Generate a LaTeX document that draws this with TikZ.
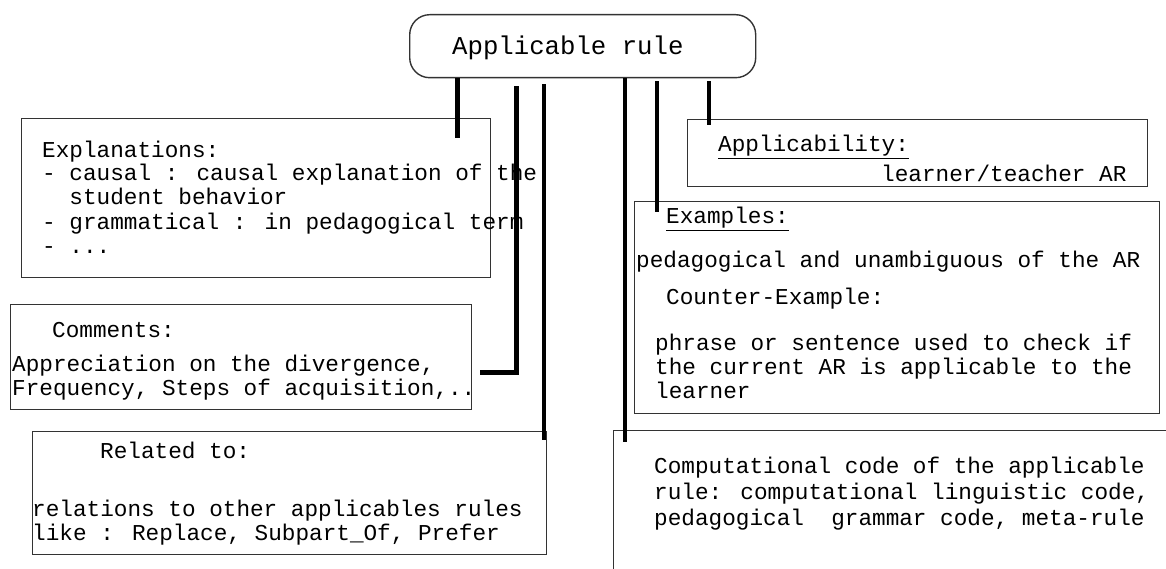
\documentclass[tikz,border=0pt]{standalone}
\usepackage{fontspec}
\newfontfamily\courier{Liberation Mono}

\begin{document}
\begin{tikzpicture}[x=1pt, y=-1pt,
    box/.style={draw=black!80, line width=1.4pt, anchor=north west, inner sep=0pt},
    txt/.style={font=\courier\fontsize{22.7}{24}\selectfont, anchor=base west, align=left, inner sep=0pt},
    wire/.style={line width=3.8pt},
    heavy/.style={line width=5pt}]
    \useasboundingbox (0,0) rectangle (1166,569);
    \clip (0,0) rectangle (1166,569);
    % the rule itself
    \node[box, rounded corners=20pt, minimum width=346pt, minimum height=63pt] (rule) at (409,14) {};
    \node[anchor=base west, inner sep=0pt, font=\courier\fontsize{25.7}{26}\selectfont] (ruletxt) at (452,55) {Applicable rule};
    % boxes
    \node[box, minimum width=469pt, minimum height=159pt] (expl) at (21,118) {};
    \node[box, minimum width=461pt, minimum height=105pt] (comm) at (10,304) {};
    \node[box, minimum width=514pt, minimum height=123pt] (rel) at (32,431) {};
    \node[box, minimum width=460pt, minimum height=67pt] (appl) at (687,119) {};
    \node[box, minimum width=525pt, minimum height=212pt] (exmp) at (634,201) {};
    \node[box, minimum width=600pt, minimum height=200pt] (code) at (613,430) {};
    % texts (base = last line)
    \node[txt] (expltxt) at (42,253) {Explanations:\\- causal : causal explanation of the\\\phantom{- }student behavior\\- grammatical : in pedagogical term\\- ...};
    \node[txt] (commhead) at (52,337) {Comments:};
    \node[txt] (commtxt) at (12,395) {Appreciation on the divergence,\\Frequency, Steps of acquisition,..};
    \node[txt] (relhead) at (100,458) {Related to:};
    \node[txt] (reltxt) at (32,540) {relations to other applicables rules\\like : Replace, Subpart\_Of, Prefer};
    \node[txt] (applhead) at (718,152) {\underline{Applicability:}};
    \node[txt] (appltxt) at (881,182) {learner/teacher AR};
    \node[txt] (exmphead) at (666,224) {\underline{Examples:}};
    \node[txt] (exmptxt) at (636,267) {pedagogical and unambiguous of the AR};
    \node[txt] (cnthead) at (666,304) {Counter-Example:};
    \node[txt] (cnttxt) at (655,398) {phrase or sentence used to check if\\the current AR is applicable to the\\learner};
    \node[txt, font=\courier\fontsize{22.7}{26}\selectfont] (codetxt) at (654,525) {Computational code of the applicable\\rule: computational linguistic code,\\pedagogical\ \ grammar code, meta-rule};
    % links to the rule
    \coordinate (c1) at (457,138);
    \coordinate (c2) at (516,372);
    \coordinate (c2end) at (480,372);
    \coordinate (c3) at (544,440);
    \coordinate (c4) at (625,442);
    \coordinate (c5) at (657,212);
    \coordinate (c6) at (709,125);
    \draw[heavy] (rule.south -| c1) -- (c1);
    \draw[heavy, shorten <=8pt] (rule.south -| c2) -- (c2) -- (c2end);
    \draw[wire, shorten <=6pt] (rule.south -| c3) -- (c3);
    \draw[wire] (rule.south -| c4) -- (c4);
    \draw[wire, shorten <=3pt] (rule.south -| c5) -- (c5);
    \draw[wire, shorten <=3pt] (rule.south -| c6) -- (c6);
\end{tikzpicture}
\end{document}
